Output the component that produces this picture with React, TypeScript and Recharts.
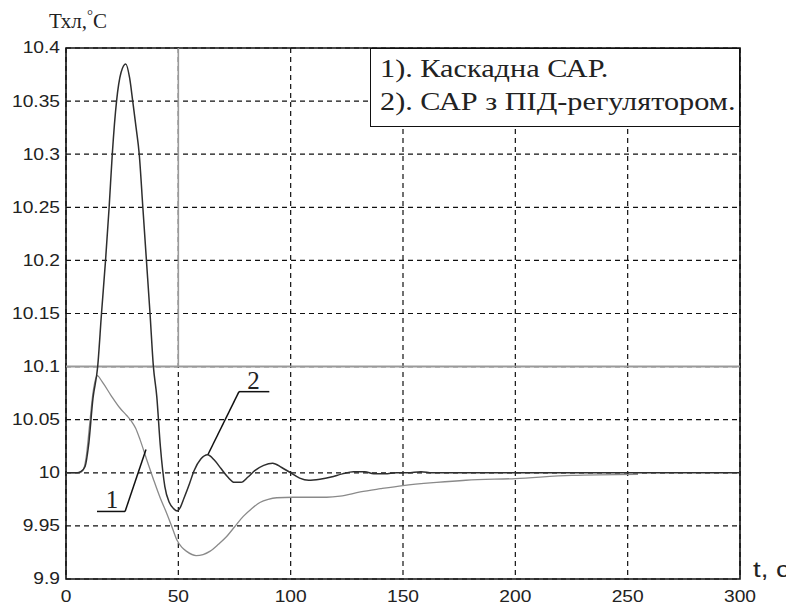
import {
  LineChart,
  Line,
  XAxis,
  YAxis,
  CartesianGrid,
  ReferenceLine,
  ReferenceArea,
  ReferenceDot,
  Legend,
  Label,
} from "recharts";

// curve 1: cascade control (grey)
const cascadeT = [0, 6, 7.5, 9, 10.5, 12, 13.9, 16, 20, 24, 27, 29, 31, 33, 35.9, 38.9, 42, 44.8, 47, 49.3, 51.5, 53.7, 57.9, 61, 64, 68, 71.5, 75, 78.9, 82.5, 86.3, 90, 93.8, 101, 110, 116, 122, 131, 140, 150, 165, 178, 200, 225, 254.6];
const cascadeV = [10, 10, 10.002, 10.015, 10.045, 10.075, 10.0915, 10.086, 10.073, 10.061, 10.054, 10.049, 10.042, 10.031, 10.0125, 9.994, 9.976, 9.962, 9.95, 9.937, 9.93, 9.926, 9.922, 9.923, 9.926, 9.933, 9.94, 9.949, 9.959, 9.966, 9.972, 9.975, 9.9765, 9.977, 9.977, 9.977, 9.978, 9.982, 9.985, 9.988, 9.991, 9.993, 9.9946, 9.9975, 9.9985];

// curve 2: PID controller (dark)
const pidT = [0, 5, 6.5, 8.5, 10, 12, 14.1, 15.8, 17.6, 19.2, 20.6, 22.5, 24.5, 26.6, 28.3, 29.7, 31.2, 32.6, 34.2, 35.8, 37.4, 38.9, 40.4, 42, 44, 46, 48, 49.5, 51, 52.5, 55, 57, 60, 63, 66, 69, 72, 75, 78, 81, 84, 88, 92, 96, 100, 104, 108, 113, 118, 123, 128, 133, 137, 142, 147, 152, 158, 163, 170, 300];
const pidV = [10, 10, 10.001, 10.006, 10.025, 10.07, 10.1, 10.15, 10.2, 10.25, 10.3, 10.35, 10.377, 10.385, 10.372, 10.35, 10.325, 10.3, 10.25, 10.2, 10.15, 10.1, 10.072, 10.025, 9.987, 9.972, 9.966, 9.964, 9.968, 9.976, 9.99, 10.002, 10.013, 10.017, 10.012, 10.004, 9.996, 9.991, 9.991, 9.996, 10.002, 10.007, 10.009, 10.005, 10, 9.995, 9.993, 9.994, 9.996, 9.999, 10.001, 10.001, 9.999, 9.999, 10, 10, 10.001, 10, 10, 10];

const xTicks = [0, 50, 100, 150, 200, 250, 300];
const yTicks = [9.9, 9.95, 10, 10.05, 10.1, 10.15, 10.2, 10.25, 10.3, 10.35, 10.4];
const yTickLabels = ["9.9", "9.95", "10", "10.05", "10.1", "10.15", "10.2", "10.25", "10.3", "10.35", "10.4"];
const legendLines = ["1). Каскадна САР.", "2). САР з ПІД-регулятором."];
const yTitle = "Тхл,";
const xTitle = "t, с";

// annotation leaders (data coords)
const leader1 = [{ x: 13.8, y: 9.9636 }, { x: 26.3, y: 9.9636 }, { x: 35.6, y: 10.0219 }];
const leader2 = [{ x: 63.2, y: 10.0172 }, { x: 77.0, y: 10.0764 }, { x: 90.5, y: 10.0764 }];

const cascadeData = cascadeT.map((t, i) => ({ t, v: cascadeV[i] }));
const pidData = pidT.map((t, i) => ({ t, v: pidV[i] }));

const SANS = "'Liberation Sans', Arial, sans-serif";
const SERIF = "'Liberation Serif', 'Times New Roman', serif";

const YTick = ({ x, y, payload }: any) => (
  <text
    transform={`translate(${x},${y}) scale(1.2,1)`}
    textAnchor="end"
    dominantBaseline="central"
    fontFamily={SANS}
    fontSize={16}
    fill="#222"
  >
    {yTickLabels[yTicks.indexOf(payload.value)]}
  </text>
);

const XTick = ({ x, y, payload }: any) => (
  <text
    transform={`translate(${x},${y + 15}) scale(1.2,1)`}
    textAnchor="middle"
    fontFamily={SANS}
    fontSize={16}
    fill="#222"
  >
    {payload.value}
  </text>
);

const LegendBox = () => (
  <div
    style={{
      boxSizing: "border-box",
      width: 370,
      height: 79,
      border: "1.5px solid #111",
      background: "#fff",
      padding: "3px 0 0 9px",
      fontFamily: SERIF,
      fontSize: 25,
      lineHeight: "33px",
      color: "#222",
      whiteSpace: "nowrap",
    }}
  >
    {legendLines.map((s) => (
      <div key={s} style={{ transform: "scaleX(1.21)", transformOrigin: "left" }}>
        {s}
      </div>
    ))}
  </div>
);

const tag = (s: string) => (p: any) => (
  <text x={p.cx} y={p.cy - 3} textAnchor="middle" fontFamily={SERIF} fontSize={25} fill="#222">
    {s}
  </text>
);

export default function App() {
  return (
    <LineChart width={786} height={597} margin={{ top: 40, right: 54, bottom: 0, left: 0 }}>
      <CartesianGrid stroke="#111" strokeWidth={1.2} strokeDasharray="5 4" />
      <XAxis
        dataKey="t"
        type="number"
        domain={[0, 300]}
        ticks={xTicks}
        height={26}
        tickLine={false}
        axisLine={false}
        tick={<XTick />}
        interval={0}
      >
        <Label
          content={() => (
            <text transform="translate(745,569) scale(1.25,1)" fontFamily={SANS} fontSize={22} fill="#222">
              {xTitle}
            </text>
          )}
        />
      </XAxis>
      <YAxis
        type="number"
        domain={[9.9, 10.4]}
        ticks={yTicks}
        width={58}
        tickLine={false}
        axisLine={false}
        tickMargin={0}
        tick={<YTick />}
        interval={0}
      >
        <Label
          content={() => (
            <text x={41} y={20} fontFamily={SERIF} fontSize={21} fill="#222">
              {yTitle}
              <tspan dy={-8} fontSize={15}>°</tspan>
              <tspan dy={8}>C</tspan>
            </text>
          )}
        />
      </YAxis>
      <ReferenceLine y={10.1} stroke="#9a9a9a" strokeWidth={2} />
      <ReferenceLine segment={[{ x: 50, y: 10.1 }, { x: 50, y: 10.4 }]} stroke="#9a9a9a" strokeWidth={1.6} />
      <Line data={cascadeData} dataKey="v" type="monotone" stroke="#8a8a8a" strokeWidth={1.3} dot={false} isAnimationActive={false} />
      <Line data={pidData} dataKey="v" type="monotone" stroke="#2e2e2e" strokeWidth={1.5} dot={false} isAnimationActive={false} />
      <ReferenceLine segment={[leader1[0], leader1[1]]} stroke="#111" strokeWidth={1.5} />
      <ReferenceLine segment={[leader1[1], leader1[2]]} stroke="#111" strokeWidth={1.5} />
      <ReferenceLine segment={[leader2[0], leader2[1]]} stroke="#111" strokeWidth={1.5} />
      <ReferenceLine segment={[leader2[1], leader2[2]]} stroke="#111" strokeWidth={1.5} />
      <ReferenceDot x={20.5} y={9.9636} r={0} shape={tag("1")} />
      <ReferenceDot x={83.5} y={10.0764} r={0} shape={tag("2")} />
      <ReferenceArea x1={0} x2={300} y1={9.9} y2={10.4} fill="none" stroke="#111" strokeWidth={1.6} />
      <Legend
        layout="vertical"
        align="center"
        verticalAlign="middle"
        wrapperStyle={{ position: "absolute", top: 40, left: 362, width: 370, height: 79 }}
        content={() => <LegendBox />}
      />
    </LineChart>
  );
}
